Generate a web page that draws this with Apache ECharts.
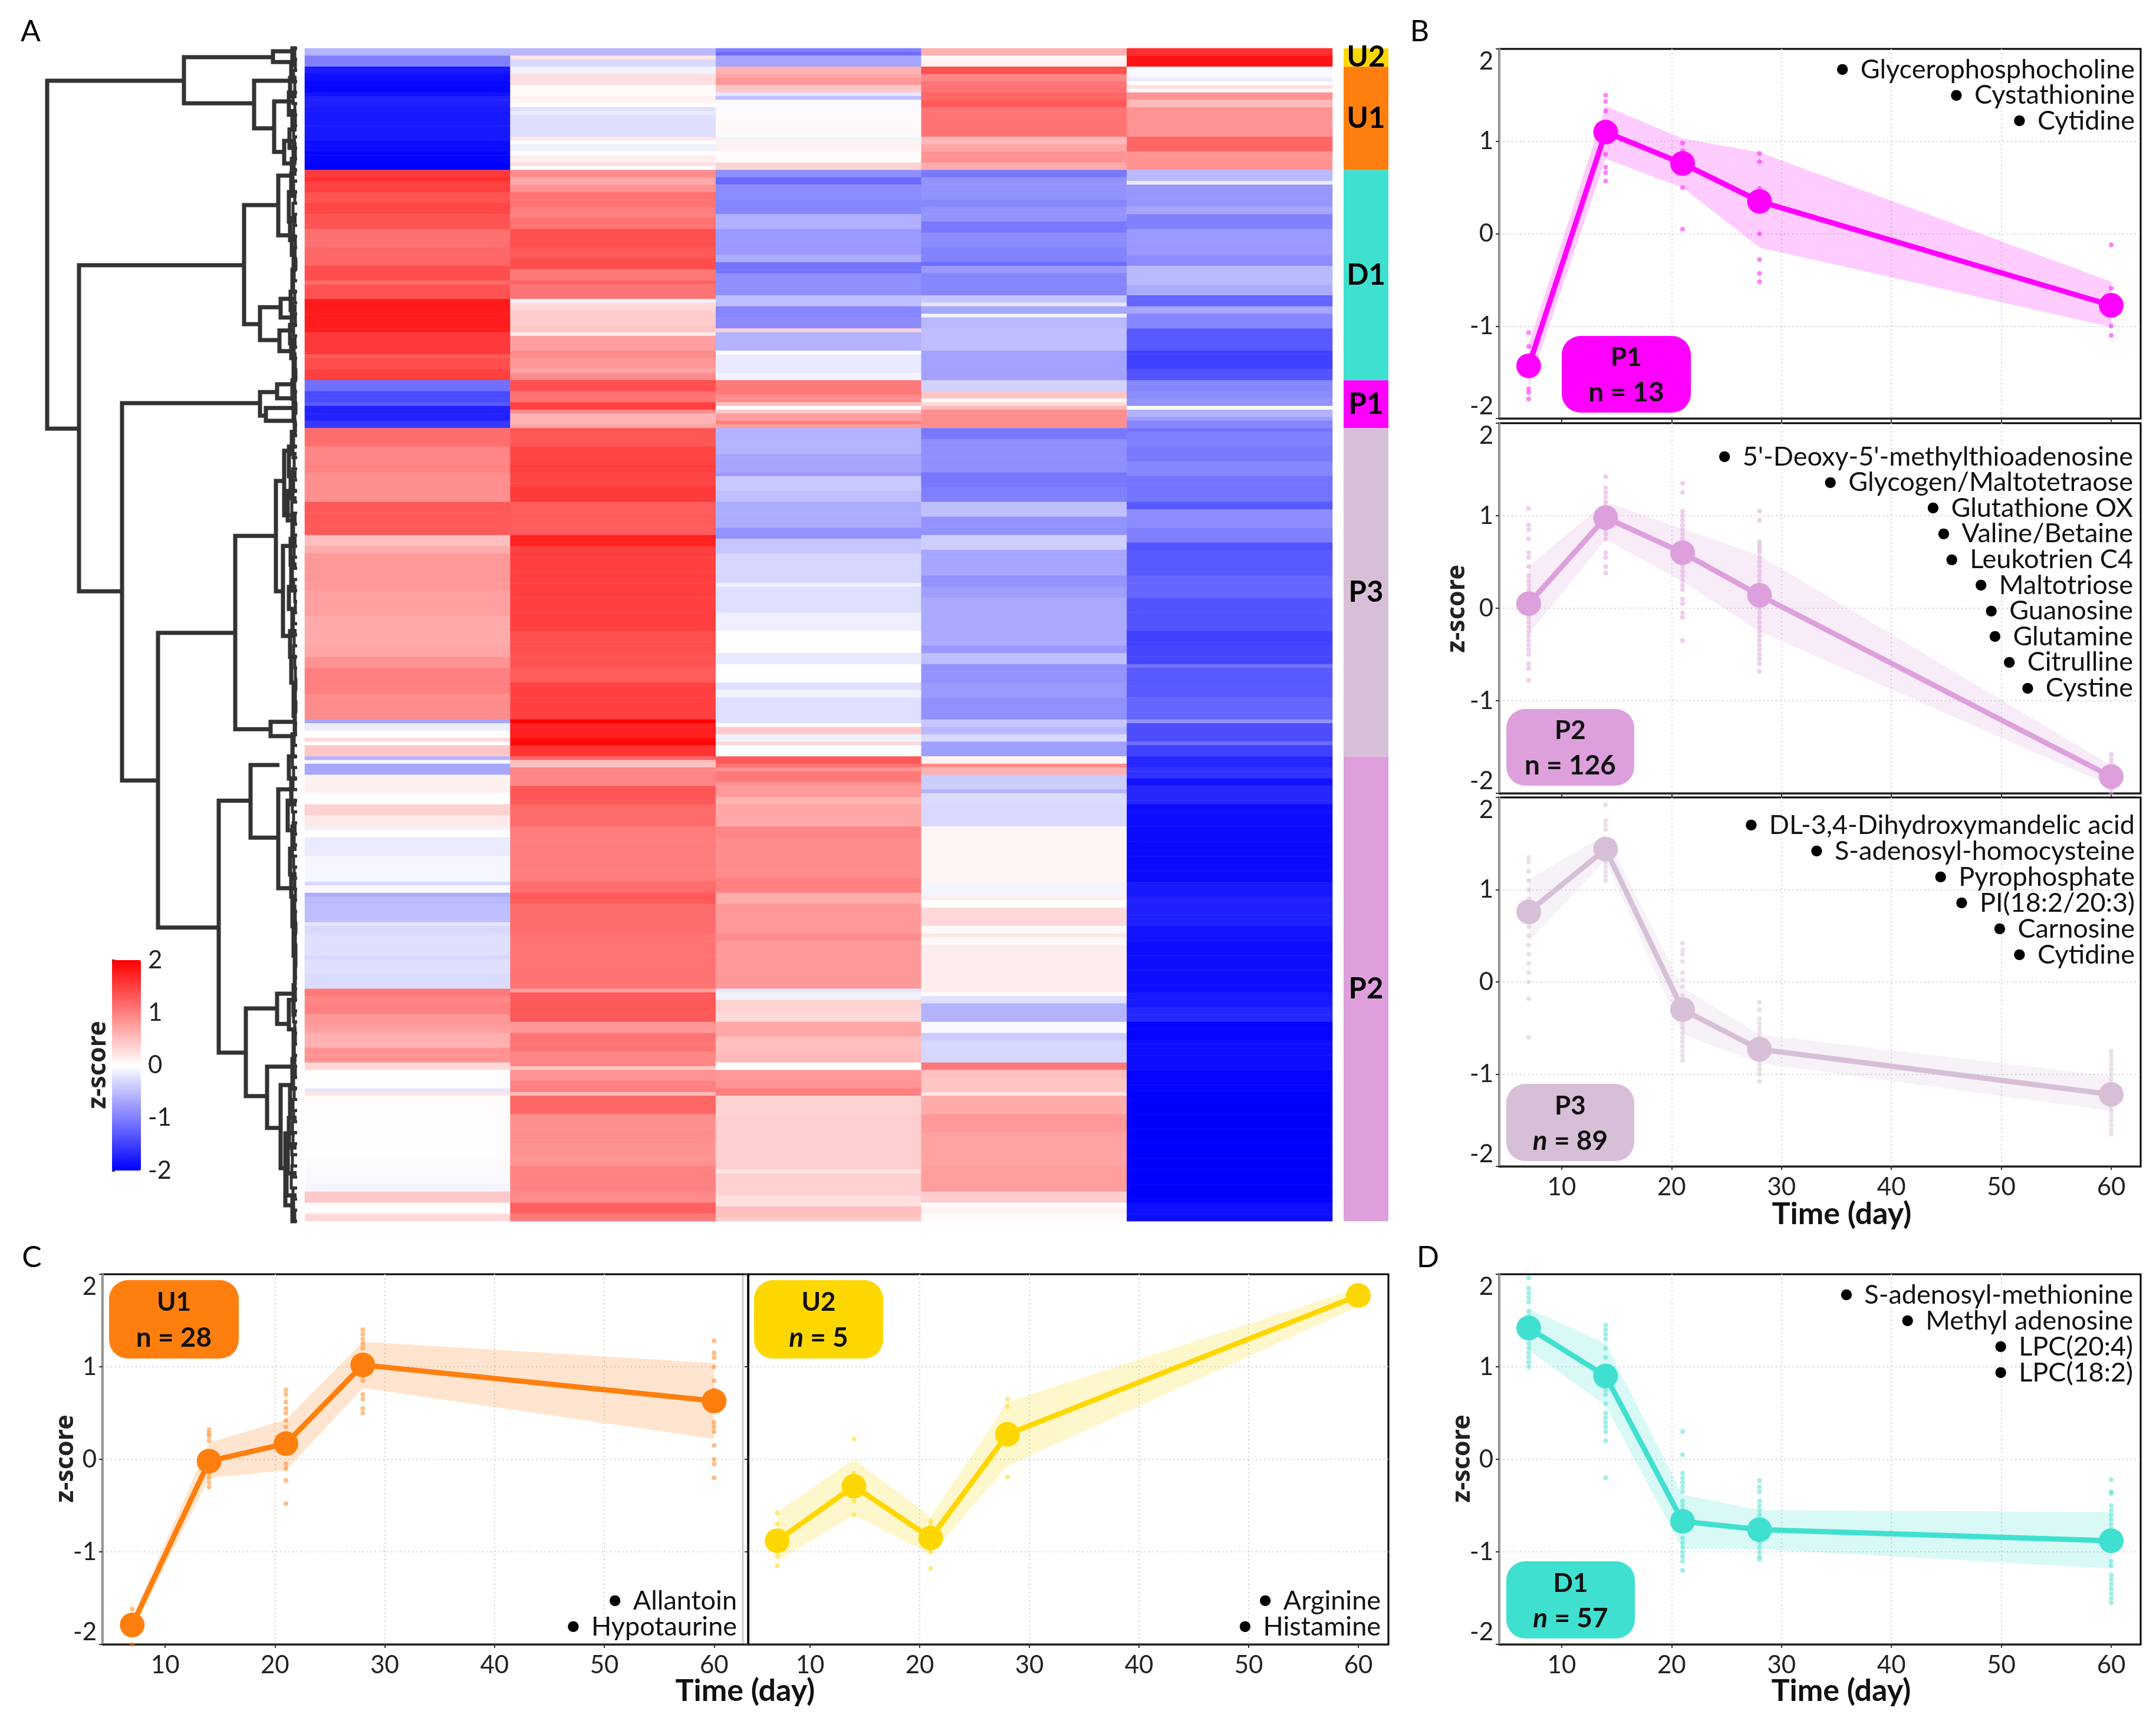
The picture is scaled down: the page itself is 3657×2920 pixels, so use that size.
<!DOCTYPE html>
<html><head><meta charset="utf-8">
<style>html,body{margin:0;padding:0;background:#fff}#c{width:3657px;height:2920px}</style>
<script src="https://cdn.jsdelivr.net/npm/echarts@6/dist/echarts.min.js"></script>
</head><body><div id="c"></div>
<script>
const FONT='Lato';
// ---------- heatmap: [number of rows, z-score] read top to bottom ----------
const dayLabels=['7','14','21','28','60'];
const col7Bands=[[2,-.6],[3,-1],
[2,-1.8],[2,-1.9],[3,-1.95],[1,-1.85],[3,-1.75],[9,-1.8],[3,-1.9],[3,-1.95],[2,-2],
[2,1.53],[1,1.65],[3,1.5],[3,1.35],[3,1.45],[4,1.35],[5,1.12],[5,1.2],[4,1.4],[1,1.15],[4,1.35],[3,1.8],[6,1.78],[6,1.55],[1,1.3],[3,1.4],[3,1.5],
[3,-1.12],[3,-1.42],[1,-1.3],[4,-1.73],[2,-1.55],
[5,1.15],[5,.95],[2,.98],[8,.88],[9,1.3],[3,.5],[2,.65],[10,.8],[7,.75],[8,.66],[3,.7],[3,.85],[7,1],[7,.9],[1,-.7],[2,-.15],[2,0],[1,.3],[1,0],[3,.45],
[1,-.6],[1,-.05],[3,-.7],[2,.1],[3,.12],[3,0],[3,.35],[3,.18],[1,-.1],[2,0],[5,-.16],[7,-.07],[1,-.3],[2,-.05],[1,-.65],[2,-.55],[5,-.5],[1,-.2],[2,-.3],[6,-.25],[1,-.32],[4,-.25],[4,-.28],
[2,1.05],[2,.95],[3,1],[3,.8],[2,.75],[4,.62],[4,.85],[2,.3],[5,.02],[1,-.2],[1,.2],[17,.02],[3,.04],[4,-.05],[2,-.08],[3,.42],[3,.02],[2,.3]];
const col14Bands=[[2,-.55],[1,.2],[2,-.3],
[2,-.1],[3,.25],[3,.03],[2,.1],[1,0],[1,-.25],[1,-.15],[6,-.25],[1,.2],[1,0],[2,-.1],[1,0],[2,.15],[1,.25],[1,0],
[2,.9],[2,.68],[2,.85],[4,1.1],[3,1],[3,1.1],[5,1.38],[3,1.3],[3,1.4],[3,1.05],[1,1.25],[4,1.1],[1,-.1],[2,.3],[4,.4],[2,.45],[1,.15],[4,.75],[2,.9],[3,.8],[1,.7],[2,.9],
[3,1.38],[3,1.1],[2,1.5],[1,.9],[3,.6],[1,.7],
[5,1.32],[5,1.47],[2,1.53],[4,1.45],[4,1.55],[9,1.27],[3,1.75],[12,1.5],[11,1.5],[3,1.38],[3,1.4],[4,1.35],[4,1.28],[10,1.5],[1,2],[4,1.75],[1,1.9],[1,1.95],[3,1.6],
[1,1.2],[2,.5],[5,.95],[5,1.32],[6,1.17],[15,1.03],[3,1.15],[3,1.3],[8,1.15],[15,1.1],
[1,.75],[8,1.3],[3,.8],[5,1.08],[4,.95],[1,.45],[3,.85],[3,1],[1,.55],[5,1.2],[8,.88],[6,.85],[7,.98],[3,.92],[3,1.25],[2,1.05]];
const col21Bands=[[1,-1],[1,-1.15],[3,-.7],
[2,.6],[1,.7],[2,.8],[2,.45],[1,-.2],[1,-.5],[4,-.04],[6,.05],[1,-.1],[3,.1],[3,.02],[2,.35],
[2,-.87],[2,-1.17],[4,-.9],[4,-.95],[4,-.62],[2,-.8],[5,-.8],[2,-.65],[3,-1.1],[6,-.87],[3,-.5],[3,-.95],[3,-.9],[1,.35],[5,-.6],[1,0],[5,-.17],[2,-.1],
[4,1.05],[2,.9],[1,.5],[1,0],[1,.45],[2,.75],[1,1],[1,.75],
[7,-.6],[5,-.7],[1,-.8],[4,-.42],[3,-.5],[7,-.65],[3,-.85],[4,-.45],[8,-.32],[1,-.1],[7,-.25],[5,-.13],[4,-.01],[2,.02],[3,-.17],[5,0],[2,-.25],[2,-.1],[7,-.25],[1,0],[2,.42],[2,-.1],[1,.3],[3,0],
[2,1.3],[1,1.1],[1,.85],[3,1.05],[1,.85],[3,.8],[2,.6],[6,.7],[3,.95],[11,.9],[4,1],[3,.65],[8,.8],[2,.9],[13,.8],[1,-.2],[2,-.1],[3,.35],[3,.3],[4,.7],[4,.5],[3,.55],[2,0],[3,.8],[2,.85],[2,1],[5,.35],[15,.38],[1,.2],[6,.37],[3,.25],[3,.5],[1,.4]];
const col28Bands=[[2,.62],[1,.05],[2,.1],
[2,1.38],[2,.95],[1,1.1],[2,1.1],[2,1.2],[2,1.3],[8,1.1],[2,.55],[2,.7],[3,.85],[2,.65],
[2,-1.05],[6,-.85],[2,-.95],[4,-.85],[3,-1.07],[4,-.9],[4,-.98],[1,-1.15],[2,-.8],[6,-.95],[2,-.45],[1,-.2],[2,-.7],[1,-.1],[3,-.55],[6,-.5],[8,-.72],
[3,-.35],[2,.45],[1,.05],[1,.3],[1,.55],[5,.88],
[3,-1.05],[9,-.88],[4,-1.07],[4,-1],[4,-.5],[5,-.85],[4,-.38],[7,-.7],[3,-.85],[3,-.75],[13,-.67],[2,-.8],[3,-.5],[5,-.85],[4,-.8],[6,-.87],[2,-.45],[2,-.55],[2,-.3],[4,-.75],
[2,.1],[1,.9],[2,.6],[4,-.4],[1,-.6],[3,-.28],[6,-.3],[15,.08],[4,-.08],[1,.15],[2,0],[5,.3],[2,.05],[1,.2],[2,.04],[13,.14],[1,0],[2,-.25],[5,-.6],[3,-.05],[2,-.4],[6,-.32],[2,1.05],[2,.5],[4,.45],[1,.2],[5,.65],[5,.8],[9,.72],[7,.78],[3,.4],[1,0],[2,.1],[2,.05]];
const col60Bands=[[2,1.65],[3,1.85],
[3,-.05],[1,-.15],[1,0],[1,.25],[1,.05],[2,.85],[2,.55],[8,.85],[4,1.2],[5,.85],
[3,-.55],[1,-.15],[6,-.82],[2,-.7],[4,-1],[2,-.8],[5,-.8],[3,-.9],[5,-.55],[3,-.65],[3,-1.2],[2,-.7],[4,-.95],[6,-1.3],[5,-1.5],[3,-1.35],
[3,-.95],[2,-.9],[2,-.85],[1,0],[2,-.6],[1,-.75],[2,-.95],
[1,-1.1],[4,-1],[4,-1.05],[4,-.95],[7,-1.1],[2,-1.3],[5,-.9],[4,-1],[2,-1.35],[7,-1.3],[6,-1.2],[9,-1.35],[4,-1.5],[5,-1.45],[1,-1.1],[8,-1.3],[6,-1.2],[1,-.85],[5,-1.4],[1,-1.15],[3,-1.5],
[3,-1.7],[3,-1.6],[2,-1.85],[5,-1.7],[6,-1.9],[15,-1.92],[4,-1.8],[8,-1.75],[4,-1.85],[14,-1.9],[4,-1.8],[4,-1.7],[5,-1.97],[8,-1.9],[6,-1.97],[30,-2],[5,-1.88]];
const colBands=[col7Bands,col14Bands,col21Bands,col28Bands,col60Bands];
// ---------- cluster strip ----------
const clusterNames=['U2','U1','D1','P1','P3','P2'];
const clusterSizes=[5,28,57,13,89,126];
const clusterColors=['#ffd700','#ff7f0e','#40e0d0','#ff00ff','#d8bfd8','#dda0dd'];
// ---------- dendrogram: [height, row top, row bottom, child height top, child height bottom] ----------
const treeNodes=[[430,8.8,103.1,198,376],[198,2.4,14.9,47,79],[47,.8,3.7,8,12],[79,8.8,21.7,15,45],[45,14.4,28.1,10,28],[28,25.1,31.2,8,10],
[376,58.8,147.2,96,303],[96,42.5,74.8,38,69],[38,34.5,50.7,14,14],[69,70.2,79.1,34,36],[34,67.9,73,10,10],[36,76.5,82.1,14,10],
[303,96.2,198.5,69,242],[69,93.2,99.6,40,59],[40,91.1,94.9,8,8],[59,97.5,101,8,10],[242,158.5,238.4,111,139],[111,132.2,184.6,42,51],[42,117.3,147.2,28,30],[28,109.1,126.6,12,12],[30,134.9,159.3,12,10],[51,182.6,186.5,10,14],
[139,204,272.3,85,93],[85,194.3,214,36,38],[38,200.9,227.7,12,12],[93,260.3,284.1,40,57],[40,256.3,264.5,10,22],[57,276.1,292.7,8,34],[34,281.1,303.6,12,26],[26,294.2,313.7,10,10]];
const leafNodes=[[14,0,3.5],[16,4.5,9],[18,8,13],[20,12,18],[14,17,21],[19,22,27],[12,26,31],[15,30,33],[16,34,40],[20,39,47],[18,46,52],[15,51,56],[12,55,60],[14,60,66],[17,66,71],[15,70,75],[18,75,80],[16,79,84],[12,83,90],[14,90,95],[12,95,101],[10,101,104],[15,104,110],[20,108,116],[17,115,122],[22,120,128],[14,127,134],[17,133,140],[16,140,147],[20,146,152],[14,152,158],[18,158,165],[16,165,172],[12,172,181],[10,180,186],[14,186,192],[20,192,198],[16,198,205],[22,204,212],[14,211,217],[18,217,224],[16,224,230],[14,230,238],[12,238,246],[10,246,254],[12,254,262],[20,258,266],[12,266,274],[14,274,282],[18,282,290],[20,290,298],[22,298,305],[24,305,311],[14,311,318]];
const twigNodes=[[10,0,3],[9,3,6],[12,6,9],[10,9,12],[13,12,15],[10,15,18],[9,18,21],[12,21,24],[11,24,27],[9,27,30],[11,30,33],[13,33,36],[12,36,39],[10,39,42],[13,42,45],[11,45,48],[12,48,51],[9,51,54],[10,54,57],[8,57,60],[11,60,63],[12,63,66],[10,66,69],[13,69,72],[9,72,75],[12,75,78],[10,78,81],[11,81,84],[9,84,87],[8,87,90],[10,90,93],[9,93,96],[8,96,99],[10,99,102],[9,102,105],[12,105,108],[13,108,111],[11,111,114],[14,114,117],[12,117,120],[13,120,123],[15,123,126],[10,126,129],[12,129,132],[13,132,135],[11,135,138],[12,138,141],[14,141,144],[12,144,147],[10,147,150],[9,150,153],[12,153,156],[13,156,159],[11,159,162],[12,162,165],[10,165,168],[9,168,171],[8,171,174],[9,174,177],[8,177,180],[10,180,183],[9,183,186],[11,186,189],[13,189,192],[14,192,195],[12,195,198],[13,198,201],[15,201,204],[14,204,207],[12,207,210],[13,210,213],[11,213,216],[14,216,219],[12,219,222],[11,222,225],[10,225,228],[9,228,231],[10,231,234],[9,234,237],[8,237,240],[9,240,243],[8,243,246],[8,246,249],[9,249,252],[10,252,255],[9,255,258],[13,258,261],[12,261,264],[10,264,267],[9,267,270],[11,270,273],[10,273,276],[9,276,279],[12,279,282],[11,282,285],[13,285,288],[12,288,291],[14,291,294],[13,294,297],[15,297,300],[14,300,303],[15,303,306],[16,306,309],[13,309,312],[12,312,315],[10,315,318]];
// ---------- profile panels ----------
const days=[7,14,21,28,60];
const p1Mean=[-1.43,1.1,.76,.35,-.775], p1Upper=[-1.2,1.38,1.03,.88,-.52], p1Lower=[-1.65,.81,.5,-.15,-1.01];
const p1Dots=[[-1.07,-1.22,-1.68,-1.72,-1.79],[1.5,1.43,1.33,.86,.72,.66,.57],[.98,.9,.5,.05,.7],[.87,.78,.49,0,-.28,-.43,-.52],[-.12,-.59,-.86,-1,-1.1]];
const p1Notes=['Glycerophosphocholine','Cystathionine','Cytidine'];
const p2Mean=[.05,.98,.6,.14,-1.82], p2Upper=[.45,1.15,.86,.57,-1.7], p2Lower=[-.28,.74,.29,-.25,-1.92];
const p2Dots=[[1.08,.9,.85,.75,.6,.55,.45,.35,.3,.25,.2,.15,.1,.05,0,-.05,-.1,-.15,-.2,-.25,-.3,-.35,-.4,-.45,-.5,-.6,-.65,-.78],
[1.42,1.3,1.25,1.2,1.15,1.1,1.05,1,.95,.9,.85,.8,.75,.6,.55,.45,.38],
[1.35,1.25,1.05,1,.95,.9,.85,.8,.75,.7,.65,.6,.55,.5,.45,.4,.35,.3,.25,.2,.1,.05,-.05,-.1,-.35],
[1.05,.95,.72,.68,.64,.6,.55,.5,.45,.4,.35,.3,.25,.2,.15,.1,.05,0,-.05,-.1,-.15,-.2,-.25,-.3,-.35,-.4,-.45,-.5,-.55,-.6,-.68],
[-1.58,-1.63,-1.68,-1.72,-1.76,-1.8,-1.85,-1.9,-1.95,-2]];
const p2Notes=["5'-Deoxy-5'-methylthioadenosine",'Glycogen/Maltotetraose','Glutathione OX','Valine/Betaine','Leukotrien C4','Maltotriose','Guanosine','Glutamine','Citrulline','Cystine'];
const p3Mean=[.76,1.44,-.3,-.73,-1.22], p3Upper=[1.11,1.6,-.06,-.57,-1.02], p3Lower=[.44,1.32,-.57,-.88,-1.4];
const p3Dots=[[1.35,1.3,1.2,1.1,1,.9,.85,.7,.6,.5,.4,.3,.2,.1,0,-.18,-.6],[1.92,1.75,1.7,1.65,1.3,1.25,1.2,1.15,1.1],
[.42,.35,.3,.22,.1,.02,-.05,-.15,-.25,-.4,-.45,-.5,-.55,-.6,-.65,-.7,-.75,-.8,-.85],[-.22,-.3,-.4,-.45,-.5,-.55,-.6,-.85,-.9,-.95,-1,-1.08],
[-.75,-.8,-.85,-.9,-.95,-1,-1.05,-1.1,-1.15,-1.3,-1.35,-1.4,-1.45,-1.5,-1.55,-1.6,-1.65]];
const p3Notes=['DL-3,4-Dihydroxymandelic acid','S-adenosyl-homocysteine','Pyrophosphate','PI(18:2/20:3)','Carnosine','Cytidine'];
const u1Mean=[-1.79,-.02,.17,1.02,.63], u1Upper=[-1.72,.18,.43,1.27,1.04], u1Lower=[-1.86,-.2,-.12,.77,.22];
const u1Dots=[[-1.62,-1.68,-1.85,-2],[.32,.28,.25,.2,.05,-.1,-.15,-.2,-.25,-.3],[.75,.7,.62,.55,.5,.42,.35,.25,.1,-.05,-.1,-.23,-.48],[1.4,1.35,1.3,1.25,1.2,.9,.85,.7,.65,.55,.5],[1.28,1.15,1.1,1,.85,.75,.4,.35,.3,.15,0,-.05,-.2]];
const u1Notes=['Allantoin','Hypotaurine'];
const u2Mean=[-.88,-.29,-.85,.27,1.77], u2Upper=[-.57,0,-.62,.62,1.85], u2Lower=[-1.1,-.6,-1.03,-.07,1.65];
const u2Dots=[[-.58,-.7,-.95,-1.05,-1.15],[.22,-.15,-.3,-.45,-.6],[-.67,-.72,-.95,-1,-1.18],[.65,.57,.28,.2,-.19],[1.85,1.8,1.77,1.72,1.7]];
const u2Notes=['Arginine','Histamine'];
const d1Mean=[1.42,.9,-.67,-.76,-.88], d1Upper=[1.63,1.25,-.38,-.55,-.57], d1Lower=[1.18,.58,-.97,-.97,-1.18];
const d1Dots=[[1.96,1.85,1.8,1.75,1.7,1.6,1.55,1.5,1.3,1.25,1.2,1.15,1.1,1.05,1],[1.45,1.4,1.35,1.3,1.2,1.1,1,.8,.75,.7,.6,.5,.45,.4,.35,.3,.2,-.2],
[.3,.05,-.15,-.2,-.25,-.3,-.35,-.45,-.5,-.55,-.85,-.9,-.95,-1,-1.05,-1.1,-1.2],[-.23,-.3,-.35,-.45,-.5,-.55,-.6,-.9,-.95,-1,-1.05,-1.08],
[-.22,-.35,-.37,-.5,-.55,-.6,-.65,-.7,-.75,-.8,-.95,-1.1,-1.15,-1.25,-1.3,-1.35,-1.4,-1.45,-1.5,-1.55]];
const d1Notes=['S-adenosyl-methionine','Methyl adenosine','LPC(20:4)','LPC(18:2)'];
const xTicks=[10,20,30,40,50,60], yTicks=[-2,-1,0,1,2];

// layout
const panels=[
 {name:'P1',n:'n = 13',it:false,c:'#ff00ff',m:p1Mean,u:p1Upper,l:p1Lower,d:p1Dots,notes:p1Notes,g:[2543,83,1088,627],x:[4.32,62.68],xLab:false,lab:true,
  badge:[2649,570,219,130],noteY:118,noteR:3621,noteStep:43.6},
 {name:'P2',n:'n = 126',it:false,c:'#dda0dd',m:p2Mean,u:p2Upper,l:p2Lower,d:p2Dots,notes:p2Notes,g:[2543,718,1088,628],x:[4.32,62.68],xLab:false,lab:true,
  badge:[2555,1203,217,130],noteY:775,noteR:3618,noteStep:43.6},
 {name:'P3',n:'n = 89',it:true,c:'#d8bfd8',m:p3Mean,u:p3Upper,l:p3Lower,d:p3Dots,notes:p3Notes,g:[2543,1353,1088,626],x:[4.32,62.68],xLab:true,lab:true,
  badge:[2555,1839,217,131],noteY:1400,noteR:3621,noteStep:44},
 {name:'U1',n:'n = 28',it:false,c:'#ff7f0e',m:u1Mean,u:u1Upper,l:u1Lower,d:u1Dots,notes:u1Notes,g:[174,2162,1095,628],x:[4.3,63.1],xLab:true,lab:true,
  badge:[185,2172,220,133],noteY:2716,noteR:1250,noteStep:44},
 {name:'U2',n:'n = 5',it:true,c:'#ffd700',m:u2Mean,u:u2Upper,l:u2Lower,d:u2Dots,notes:u2Notes,g:[1269,2162,1086,628],x:[4.35,62.74],xLab:true,lab:false,black:true,
  badge:[1279,2172,219,133],noteY:2716,noteR:2342,noteStep:44},
 {name:'D1',n:'n = 57',it:true,c:'#40e0d0',m:d1Mean,u:d1Upper,l:d1Lower,d:d1Dots,notes:d1Notes,g:[2543,2162,1088,628],x:[4.32,62.68],xLab:true,lab:true,
  badge:[2555,2649,218,131],noteY:2197,noteR:3618,noteStep:44}
];
const grids=[],xAxes=[],yAxes=[],series=[],graphics=[];
const hidden={show:false};
const tickText={color:'#222',fontFamily:FONT,fontSize:42};
const dotted={show:true,showMinLine:false,showMaxLine:false,lineStyle:{color:'#cfcfcf',type:[2,5],width:2}};

// 0: dendrogram
grids.push({left:10,top:82,width:500,height:1990});
xAxes.push({type:'value',min:0,max:500,inverse:true,...hidden});
yAxes.push({type:'value',min:0,max:318,inverse:true,...hidden});
series.push({type:'custom',xAxisIndex:0,yAxisIndex:0,silent:true,clip:false,encode:{x:0,y:1},
 data:treeNodes.concat(leafNodes.map(n=>[n[0],n[1],n[2],7,7]),twigNodes.map(n=>[n[0],n[1],n[2],6,6])),
 renderItem:(p,api)=>{const v=i=>api.value(i);
  return {type:'polyline',shape:{points:[api.coord([v(3),v(1)]),api.coord([v(0),v(1)]),api.coord([v(0),v(2)]),api.coord([v(4),v(2)])]},
   style:{stroke:'#333',lineWidth:p.dataIndex<treeNodes.length+leafNodes.length?7:5,fill:null,lineJoin:'miter'}};}});
// 1: heatmap
grids.push({left:517,top:82,width:1743,height:1990});
const rowNames=[];for(let i=0;i<318;i++)rowNames.push(String(i));
xAxes.push({type:'category',gridIndex:1,data:dayLabels,...hidden});
yAxes.push({type:'category',gridIndex:1,data:rowNames,inverse:true,...hidden});
const heat=[];colBands.forEach((b,c)=>{let r=0;b.forEach(([k,v])=>{for(let i=0;i<k;i++)heat.push([c,r++,v]);});});
series.push({type:'heatmap',xAxisIndex:1,yAxisIndex:1,data:heat,silent:true,progressive:0,itemStyle:{borderWidth:0}});
const heatIndex=1;
// 2: cluster strip
grids.push({left:2279,top:82,width:76,height:1990});
xAxes.push({type:'category',gridIndex:2,data:[''],...hidden});
yAxes.push({type:'value',gridIndex:2,min:0,max:318,inverse:true,...hidden});
clusterNames.forEach((nm,i)=>series.push({type:'bar',name:nm,xAxisIndex:2,yAxisIndex:2,stack:'c',barWidth:'100%',silent:true,data:[clusterSizes[i]],
 itemStyle:{color:clusterColors[i]},label:{show:true,position:'inside',formatter:'{a}',color:'#000',fontFamily:FONT,fontWeight:700,fontSize:49}}));
// 3: colour bar axis
grids.push({left:190,top:1629,width:49,height:357});
xAxes.push({type:'value',gridIndex:3,min:0,max:1,...hidden});
yAxes.push({type:'value',gridIndex:3,position:'right',min:-2,max:2,interval:1,axisLine:{show:false},splitLine:{show:false},
 axisTick:{show:true,length:5,lineStyle:{color:'#333',width:3}},axisLabel:{...tickText,margin:12}});
// z-score titles: colour bar, panel B, panel C, panel D
[[167,1807],[2472,1033],[112,2475],[2481,2475]].forEach(([x,y])=>graphics.push({type:'text',x,y,rotation:Math.PI/2,z:60,style:{text:'z-score',fontFamily:'Noto Sans',fontWeight:700,fontSize:43,fill:'#222',align:'center',verticalAlign:'middle'}}));
// profile panels
panels.forEach((P,k)=>{
 const gi=k+4,[L,T,W,H]=P.g;
 grids.push({left:L,top:T,width:W,height:H,show:true,borderColor:'#000',borderWidth:3,backgroundColor:'transparent'});
 xAxes.push({type:'value',gridIndex:gi,min:P.x[0],max:P.x[1],
  axisLine:{show:true,onZero:false,lineStyle:{color:'#222',width:3}},
  axisTick:{show:true,length:6,lineStyle:{color:'#333',width:2},customValues:xTicks},
  axisLabel:{...tickText,show:P.xLab,margin:14,customValues:xTicks},
  splitLine:dotted});
 yAxes.push({type:'value',gridIndex:gi,min:-2,max:2,interval:1,
  axisLine:{show:true,onZero:false,lineStyle:{color:P.black?'#000':'#999',width:3}},
  axisTick:{show:true,length:6,lineStyle:{color:'#333',width:2}},
  axisLabel:{...tickText,show:P.lab,margin:10,verticalAlignMaxLabel:'top',verticalAlignMinLabel:'bottom'},
  splitLine:dotted});
 series.push({type:'custom',xAxisIndex:gi,yAxisIndex:gi,silent:true,clip:false,z:2,encode:{x:0,y:1},data:[[days[0],P.u[0]]],
  renderItem:(p,api)=>{const top=days.map((d,i)=>api.coord([d,P.u[i]]));const bot=days.map((d,i)=>api.coord([d,P.l[i]])).reverse();
   return {type:'polygon',shape:{points:top.concat(bot)},style:{fill:P.c,opacity:.2}};}});
 const dots=[];P.d.forEach((arr,i)=>arr.forEach(v=>dots.push([days[i],v])));
 series.push({type:'scatter',xAxisIndex:gi,yAxisIndex:gi,silent:true,z:3,data:dots,symbolSize:8,itemStyle:{color:P.c,opacity:.5}});
 series.push({type:'line',xAxisIndex:gi,yAxisIndex:gi,silent:true,z:4,data:days.map((d,i)=>[d,P.m[i]]),symbol:'circle',symbolSize:42,showSymbol:true,
  lineStyle:{color:P.c,width:9},itemStyle:{color:P.c}});
 // badge
 const [bx,by,bw,bh]=P.badge;
 graphics.push({type:'rect',z:50,shape:{x:bx,y:by,width:bw,height:bh,r:32},style:{fill:P.c}});
 graphics.push({type:'text',z:51,x:bx+bw/2,y:by+bh*.285,style:{text:P.name,fontFamily:FONT,fontWeight:700,fontSize:44,fill:'#111',align:'center',verticalAlign:'middle'}});
 const nRest=P.n.slice(1);
 graphics.push({type:'text',z:51,x:bx+bw/2,y:by+bh*.74,style:{text:'{i|n}{r|'+nRest+'}',align:'center',verticalAlign:'middle',
  rich:{i:{fontFamily:FONT,fontWeight:700,fontSize:46,fontStyle:P.it?'italic':'normal',fill:'#111'},r:{fontFamily:FONT,fontWeight:700,fontSize:46,fill:'#111'}}}});
 // notes
 P.notes.forEach((t,i)=>graphics.push({type:'text',z:51,x:P.noteR,y:P.noteY+i*P.noteStep,style:{text:'{b|\u25CF}{t|'+t+'}',align:'right',verticalAlign:'middle',
  rich:{b:{fontFamily:'DejaVu Sans',fontSize:24,fill:'#000',padding:[0,20,0,0]},t:{fontFamily:FONT,fontSize:45,fill:'#111'}}}}));
});
// letters, axis titles, separator
[['A',52,54],['B',2408,54],['C',54,2134],['D',2422,2134]].forEach(([t,x,y])=>graphics.push({type:'text',z:60,x,y,style:{text:t,fontFamily:FONT,fontSize:50,fill:'#000',align:'center',verticalAlign:'middle'}}));
[[3124,2060],[1264,2869],[3123,2869]].forEach(([x,y])=>graphics.push({type:'text',z:60,x,y,style:{text:'Time (day)',fontFamily:FONT,fontWeight:700,fontSize:52,fill:'#111',align:'center',verticalAlign:'middle'}}));
graphics.push({type:'line',z:20,shape:{x1:1260,y1:2164,x2:1260,y2:2788},style:{stroke:'#ccc',lineWidth:3}});

const chart=echarts.init(document.getElementById('c'),null,{renderer:'canvas',width:3657,height:2920,devicePixelRatio:1});
chart.setOption({animation:false,backgroundColor:'#fff',grid:grids,xAxis:xAxes,yAxis:yAxes,series,graphic:{elements:graphics},
 visualMap:[{type:'continuous',seriesIndex:heatIndex,min:-2,max:2,show:true,left:190,top:1629,itemWidth:49,itemHeight:357,padding:0,borderWidth:0,
  showLabel:false,text:['',''],calculable:false,hoverLink:false,inRange:{color:['#0000ff','#ffffff','#ff0000']}}]});
</script></body></html>
